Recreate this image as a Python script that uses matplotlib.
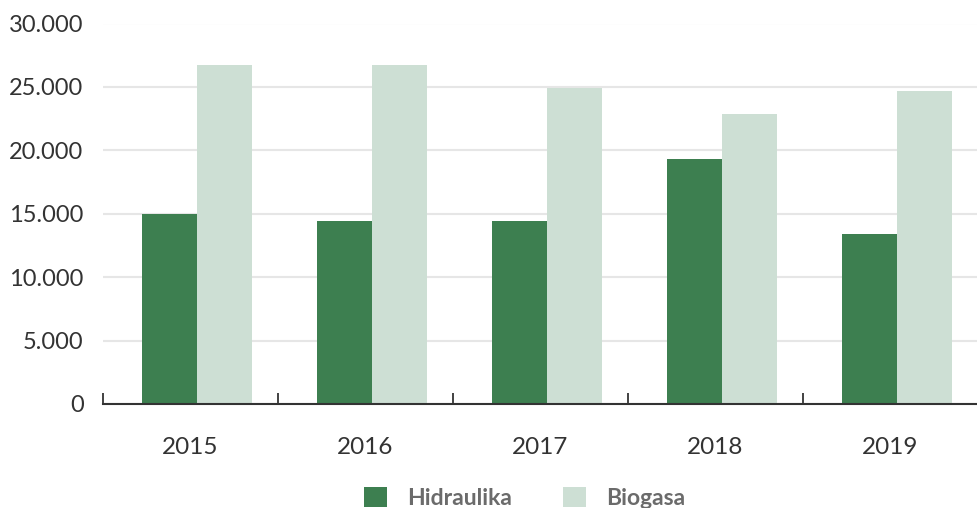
import matplotlib.pyplot as plt
import numpy as np
from matplotlib.ticker import FuncFormatter

years = ["2015", "2016", "2017", "2018", "2019"]
hidraulika = [14950, 14400, 14400, 19350, 13400]
biogasa = [26700, 26700, 24950, 22900, 24700]

DARK = "#3d7f50"
LIGHT = "#cddfd4"

plt.rcParams["font.family"] = ["Lato", "DejaVu Sans"]

fig = plt.figure(figsize=(9.77, 5.08), dpi=100)
ax = fig.add_axes([103 / 977, 1 - 404 / 508, 875 / 977, (404 - 23.5) / 508])

x = np.arange(len(years))
w = 0.317
shift = 0.037  # bars sit a little right of the category centre
ax.bar(x + shift - w / 2, hidraulika, width=w, color=DARK, label="Hidraulika", zorder=3)
ax.bar(x + shift + w / 2, biogasa, width=w, color=LIGHT, label="Biogasa", zorder=3)

ax.set_xlim(-0.5, len(years) - 0.5)
ax.set_ylim(0, 30000)
ax.set_yticks(np.arange(0, 30001, 5000))
ax.yaxis.set_major_formatter(FuncFormatter(lambda v, p: f"{int(v):,}".replace(",", ".")))
ax.grid(axis="y", color="#e6e6e6", linewidth=1.5, zorder=0)

for s in ["top", "right", "left"]:
    ax.spines[s].set_visible(False)
ax.spines["bottom"].set_color("#333333")
ax.spines["bottom"].set_linewidth(1.5)
ax.spines["bottom"].set_zorder(4)

# category boundary ticks on the x axis
ax.set_xticks(np.arange(-0.5, len(years) + 0.5, 1), minor=True)
ax.set_xticks(x)
ax.set_xticklabels(years)
ax.tick_params(axis="x", which="major", length=0, pad=24, labelsize=17.5, labelcolor="#333333")
ax.tick_params(axis="x", which="minor", direction="in", length=8, width=1.3, color="#333333")
ax.tick_params(axis="y", length=0, pad=14, labelsize=17, labelcolor="#333333")

leg = fig.legend(loc="center", bbox_to_anchor=(0.537, 0.02), ncol=2, frameon=False,
                 handlelength=1.0, handleheight=1.0, columnspacing=2.2, handletextpad=0.9,
                 prop={"weight": "bold", "size": 16.5})
for t in leg.get_texts():
    t.set_color("#6b6b6b")

fig.savefig("out.png", dpi=100)
